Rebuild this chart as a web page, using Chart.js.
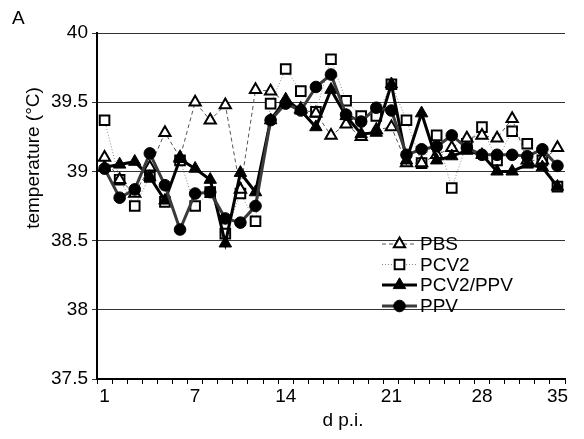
<!DOCTYPE html>
<html><head><meta charset="utf-8">
<script src="https://cdn.jsdelivr.net/npm/chart.js"></script>
<style>html,body{margin:0;padding:0;background:#fff}canvas{display:block}</style>
</head><body>
<canvas id="c" width="584" height="439"></canvas>
<script>
// ---- data ----
const dayLabels = ['1','','','','','','7','','','','','','14','','','','','','','21','','','','','','28','','','','','35'];
const pbs     = [39.10,38.94,38.84,39.03,39.28,39.10,39.50,39.37,39.48,38.87,39.59,39.58,39.50,39.45,39.42,39.26,39.34,39.25,39.30,39.32,39.06,39.06,39.12,39.17,39.24,39.26,39.24,39.38,39.08,39.08,39.17];
const pcv2    = [39.37,38.94,38.75,38.96,38.78,39.08,38.75,38.85,38.55,38.84,38.64,39.49,39.74,39.58,39.43,39.81,39.51,39.40,39.40,39.63,39.37,39.06,39.26,38.88,39.20,39.32,39.08,39.29,39.20,39.08,38.89];
const pcv2ppv = [39.03,39.05,39.07,38.96,38.79,39.09,39.02,38.94,38.48,38.99,38.85,39.37,39.52,39.44,39.32,39.59,39.40,39.27,39.28,39.63,39.08,39.42,39.08,39.11,39.15,39.12,39.00,39.00,39.05,39.03,38.89];
const ppv     = [39.02,38.81,38.87,39.13,38.90,38.58,38.84,38.85,38.66,38.63,38.75,39.37,39.49,39.44,39.61,39.70,39.41,39.36,39.46,39.44,39.12,39.16,39.18,39.26,39.17,39.12,39.12,39.12,39.11,39.16,39.04];
const seriesNames = ['PBS','PCV2','PCV2/PPV','PPV'];
const yMin = 37.5, yMax = 40, yStep = 0.5;
const yTitle = 'temperature (°C)', xTitle = 'd p.i.', panelLabel = 'A';

const FONT = '"Liberation Sans", Arial, sans-serif';

const datasets = [
  {label: seriesNames[0], data: pbs, order: 3,
   borderColor: '#555', borderWidth: 1, borderDash: [4,3],
   pointStyle: 'triangle', pointRadius: 6.5, pointBorderWidth: 2,
   pointBackgroundColor: '#fff', pointBorderColor: '#000'},
  {label: seriesNames[1], data: pcv2, order: 4,
   borderColor: '#888', borderWidth: 1, borderDash: [1,2],
   pointStyle: 'rect', pointRadius: 6.8, pointBorderWidth: 2,
   pointBackgroundColor: '#fff', pointBorderColor: '#000'},
  {label: seriesNames[2], data: pcv2ppv, order: 2,
   borderColor: '#000', borderWidth: 3,
   pointStyle: 'triangle', pointRadius: 7.2, pointBorderWidth: 1,
   pointBackgroundColor: '#000', pointBorderColor: '#000'},
  {label: seriesNames[3], data: ppv, order: 1,
   borderColor: '#3a3a3a', borderWidth: 3,
   pointStyle: 'circle', pointRadius: 5.8, pointBorderWidth: 1,
   pointBackgroundColor: '#000', pointBorderColor: '#000'}
];
datasets.forEach(d => { d.tension = 0; d.fill = false; d.pointHoverRadius = d.pointRadius; });

function drawMarker(ctx, style, r, x, y, fill, stroke, bw) {
  ctx.save();
  ctx.beginPath();
  if (style === 'triangle') {
    for (let k = 0; k < 3; k++) {
      const a = k * 2 * Math.PI / 3;
      const px = x + Math.sin(a) * r, py = y - Math.cos(a) * r;
      k ? ctx.lineTo(px, py) : ctx.moveTo(px, py);
    }
    ctx.closePath();
  } else if (style === 'rect') {
    const s = Math.SQRT1_2 * r;
    ctx.rect(x - s, y - s, 2 * s, 2 * s);
  } else {
    ctx.arc(x, y, r, 0, Math.PI * 2);
  }
  ctx.fillStyle = fill; ctx.fill();
  ctx.lineWidth = bw; ctx.strokeStyle = stroke; ctx.setLineDash([]); ctx.stroke();
  ctx.restore();
}

const textPlugin = {
  id: 'texts',
  afterDraw(chart) {
    const ctx = chart.ctx;
    ctx.save();
    ctx.fillStyle = '#000';
    ctx.font = '19px ' + FONT;
    ctx.textBaseline = 'middle';
    ctx.textAlign = 'left';
    ctx.fillText(panelLabel, 12, 19);
    ctx.textAlign = 'center';
    ctx.fillText(xTitle, 343, 421);
    ctx.translate(34, 158);
    ctx.rotate(-Math.PI / 2);
    ctx.fillText(yTitle, 0, 0);
    ctx.restore();

    // legend inside the plot
    const rows = [244, 264.5, 285, 306];
    chart.data.datasets.forEach((d, i) => {
      const y = rows[i];
      ctx.save();
      ctx.strokeStyle = d.borderColor;
      ctx.lineWidth = d.borderWidth;
      ctx.setLineDash(d.borderDash || []);
      ctx.beginPath(); ctx.moveTo(382, y); ctx.lineTo(417, y); ctx.stroke();
      ctx.restore();
      drawMarker(ctx, d.pointStyle, d.pointRadius, 399.5, y, d.pointBackgroundColor, d.pointBorderColor, d.pointBorderWidth);
      ctx.save();
      ctx.fillStyle = '#000';
      ctx.font = '19px ' + FONT;
      ctx.textBaseline = 'middle';
      ctx.textAlign = 'left';
      ctx.fillText(d.label, 420, y + 1);
      ctx.restore();
    });
  }
};

new Chart(document.getElementById('c'), {
  type: 'line',
  data: {labels: dayLabels, datasets: datasets},
  options: {
    responsive: false, animation: false, devicePixelRatio: 1,
    layout: {padding: {top: 33, right: 19, bottom: 0, left: 0}},
    plugins: {legend: {display: false}, tooltip: {enabled: false}},
    scales: {
      x: {
        type: 'category', offset: true,
        grid: {offset: true, drawOnChartArea: false, drawTicks: true, tickLength: 5, color: '#000', lineWidth: 1},
        border: {display: true, color: '#000', width: 2},
        ticks: {autoSkip: false, maxRotation: 0, minRotation: 0, padding: 1, color: '#000', font: {family: FONT, size: 19}},
        afterFit(s) { s.height = 60; }
      },
      y: {
        min: yMin, max: yMax,
        ticks: {stepSize: yStep, callback: v => String(v), padding: 4, color: '#000', font: {family: FONT, size: 19}},
        grid: {color: '#333', lineWidth: 1, drawTicks: true, tickLength: 5},
        border: {display: true, color: '#000', width: 2},
        afterFit(s) { s.width = 97; }
      }
    }
  },
  plugins: [textPlugin]
});
</script>
</body></html>
